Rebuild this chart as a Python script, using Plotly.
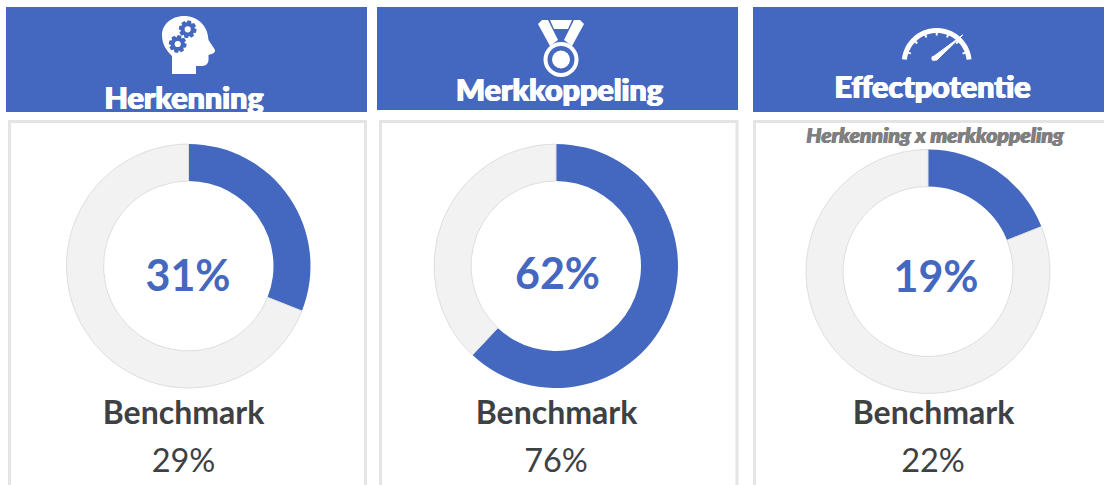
import math
import plotly.graph_objects as go

titles = ["Herkenning", "Merkkoppeling", "Effectpotentie"]
scores = [31, 62, 19]
benchmarks = [29, 76, 22]
benchmark_label = "Benchmark"
subtitle = "Herkenning x merkkoppeling"

W, H = 1104, 485
BLUE, GREY, INK = "#4468bf", "#f2f2f2", "#3e4144"
FONT = "Lato"

headers = [(6, 7, 367, 112), (377, 7, 738, 110), (753, 7, 1105, 112)]
cards = [(9.5, 121.5, 365.5, 495), (380.5, 121.5, 737, 495), (754.5, 121.5, 1110, 495)]
centers = [(188.5, 266), (556, 266), (928, 271.5)]
R, r = 122, 85
title_pos = [(184, 101), (559.5, 93), (932.5, 90)]
text_cx = [183.5, 556.5, 933.5]
value_cx = [188, 557.5, 936]
bench_cx = [183.5, 556, 933]

def poly(pts):
    return "M" + " L".join(f"{x:.2f},{y:.2f}" for x, y in pts) + " Z"

def circle(cx, cy, rad, color):
    return dict(type="circle", xref="x", yref="y", x0=cx-rad, x1=cx+rad, y0=cy-rad, y1=cy+rad,
                fillcolor=color, line_width=0, layer="above")

def path(d, color=None, line=None, lw=0):
    return dict(type="path", xref="x", yref="y", path=d, fillcolor=color, layer="above",
                line=dict(color=line or "rgba(0,0,0,0)", width=lw))

def gear(cx, cy, ro, ri, teeth=8):
    pts = []
    for i in range(teeth):
        a = 2*math.pi*i/teeth + 0.2
        w = math.pi/teeth
        for da, q in [(-w*1.0, ri), (-w*0.5, ro), (w*0.5, ro), (w*1.0, ri)]:
            pts.append((cx+q*math.cos(a+da), cy+q*math.sin(a+da)))
    return poly(pts)

shapes = []
for x0, y0, x1, y1 in headers:
    shapes.append(dict(type="rect", xref="x", yref="y", x0=x0, y0=y0, x1=x1, y1=y1,
                       fillcolor=BLUE, line_width=0, layer="below"))
for x0, y0, x1, y1 in cards:
    shapes.append(dict(type="rect", xref="x", yref="y", x0=x0, y0=y0, x1=x1, y1=y1,
                       fillcolor="rgba(0,0,0,0)", line=dict(color="#e4e4e4", width=3), layer="below"))
# clip the first header's descender
shapes.append(dict(type="rect", xref="x", yref="y", x0=6, x1=367, y0=112, y1=119,
                   fillcolor="white", line_width=0, layer="above"))

# head icon
head = ("M172,74 L196,74 L196,66 L202,66 C206,66 208.5,63 208.5,60 L208.5,55 L213,53.5 "
        "C215,52.5 215.5,50.5 214.5,49 L208.5,40 C208,26 198,16 184,16 C171,16 162,25 162,35 "
        "C162,44 166,50 172,56 Z")
shapes.append(path(head, "white"))
for cx, cy in [(187.7, 29.3), (177.7, 44)]:
    shapes.append(path(gear(cx, cy, 9, 6.6), BLUE))
    shapes.append(circle(cx, cy, 3.1, "white"))

# medal icon
shapes.append(path(poly([(538, 24), (542, 20), (548, 20), (558, 40), (550, 46)]), "white"))
shapes.append(path(poly([(584, 24), (580, 20), (574, 20), (564, 40), (572, 46)]), "white"))
shapes.append(path(poly([(550, 20), (572, 20), (568, 29), (554, 29)]), "white"))
shapes.append(circle(561, 59.5, 17.5, "white"))
shapes.append(circle(561, 59.5, 13.5, BLUE))
shapes.append(circle(561, 59.5, 9, "white"))

# gauge icon
gx, gy, gR = 936.7, 63, 35
outer, inner = [], []
for i in range(0, 41):
    a = math.radians(174 - i*168/40)
    outer.append((gx+gR*math.cos(a), gy-gR*math.sin(a)))
    inner.append((gx+(gR-5)*math.cos(a), gy-(gR-5)*math.sin(a)))
shapes.append(path(poly(outer+inner[::-1]), "white"))
for deg in [160, 135, 112, 90, 68, 45, 20]:
    a = math.radians(deg)
    shapes.append(dict(type="line", xref="x", yref="y", layer="above",
                       x0=gx+(gR-4)*math.cos(a), y0=gy-(gR-4)*math.sin(a),
                       x1=gx+(gR-7.5)*math.cos(a), y1=gy-(gR-7.5)*math.sin(a),
                       line=dict(color="white", width=2)))
shapes.append(path(poly([(932.8, 57), (936.6, 60.2), (962.7, 35)]), "white", "white", 1))
shapes.append(circle(934, 58.3, 2.6, "white"))

fig = go.Figure()

for i, score in enumerate(scores):
    cx, cy = centers[i]
    fig.add_trace(go.Pie(
        values=[score, 100-score], sort=False, direction="clockwise", rotation=0,
        hole=r/R, textinfo="none", hoverinfo="skip", showlegend=False,
        marker=dict(colors=[BLUE, GREY], line=dict(color="#dedede", width=[0, 1])),
        domain=dict(x=[(cx-R)/W, (cx+R)/W], y=[1-(cy+R)/H, 1-(cy-R)/H]),
    ))

def add_text(xs, ys, texts, size, color, weight="normal", style="normal", shadow=None):
    fig.add_trace(go.Scatter(
        x=xs, y=ys, text=texts, mode="text", hoverinfo="skip", showlegend=False,
        textposition="middle center", cliponaxis=True,
        textfont=dict(family=FONT, size=size, color=color, weight=weight, style=style,
                      shadow=shadow or "none"),
    ))

add_text([p[0] for p in title_pos], [p[1] for p in title_pos], titles, 30.5, "white", 900,
         shadow="0.7px 0 0 white, -0.7px 0 0 white, 0 0.5px 0 white")
add_text([935], [138], [subtitle], 21.2, "#7f7f7f", 900, "italic",
         shadow="0.6px 0 0 #7f7f7f, -0.6px 0 0 #7f7f7f")
add_text(value_cx, [280, 278, 281], [f"{v}%" for v in scores], 43, BLUE, 700)
add_text(text_cx, [416, 416, 416], [benchmark_label]*3, 32, INK, 700)
add_text(bench_cx, [464, 464, 464], [f"{v}%" for v in benchmarks], 32.5, INK, 400)

fig.update_layout(
    width=W, height=H, autosize=False, margin=dict(l=0, r=0, t=0, b=0),
    paper_bgcolor="white", plot_bgcolor="white", shapes=shapes,
    xaxis=dict(range=[0, W], visible=False, fixedrange=True),
    yaxis=dict(range=[H, 0], visible=False, fixedrange=True),
)
fig.write_html("out.html", config={"displayModeBar": False},
               post_script="document.body.style.margin='0';document.body.style.overflow='hidden';")
